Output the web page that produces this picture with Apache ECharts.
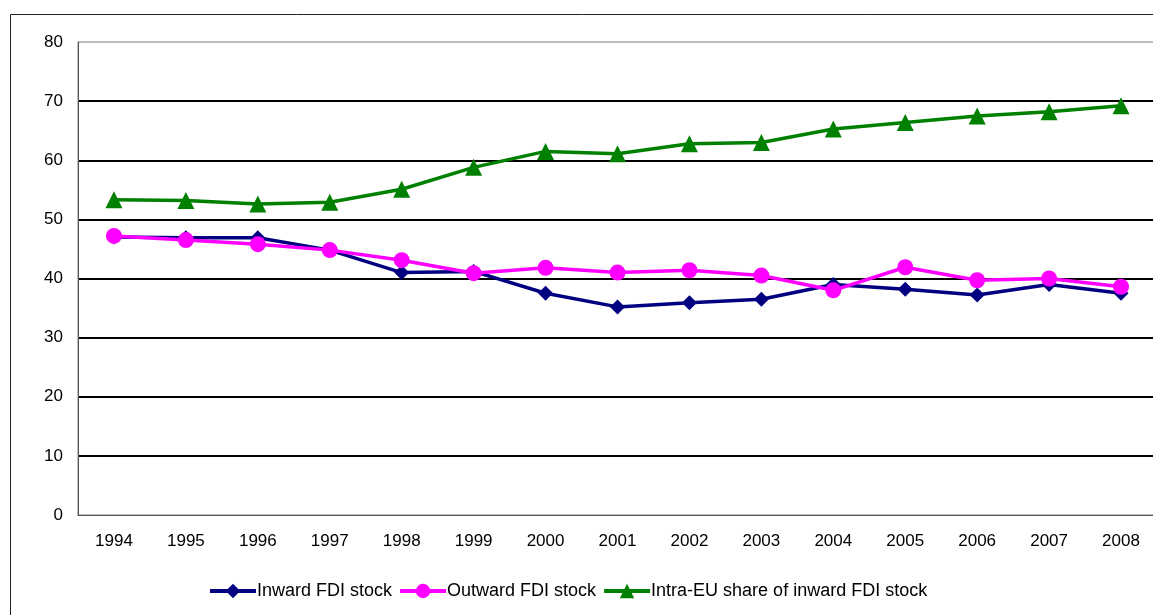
<!DOCTYPE html>
<html>
<head>
<meta charset="utf-8">
<script src="https://cdn.jsdelivr.net/npm/echarts@6/dist/echarts.min.js"></script>
<style>
  html, body { margin: 0; padding: 0; background: #fff; }
  #chart { width: 1153px; height: 615px; }
</style>
</head>
<body>
<div id="chart"></div>
<script>
// Years on the category axis
const years = ['1994','1995','1996','1997','1998','1999','2000','2001','2002','2003','2004','2005','2006','2007','2008'];

// Shares in percent
const inwardFDI  = [47.0, 46.9, 46.9, 44.8, 41.0, 41.2, 37.5, 35.2, 35.9, 36.5, 39.0, 38.2, 37.2, 39.0, 37.5];
const outwardFDI = [47.2, 46.5, 45.8, 44.8, 43.1, 40.9, 41.8, 41.0, 41.4, 40.5, 38.0, 41.9, 39.7, 40.0, 38.6];
const intraEU    = [53.3, 53.2, 52.6, 52.9, 55.1, 58.8, 61.5, 61.1, 62.8, 63.0, 65.3, 66.4, 67.5, 68.2, 69.2];

const yTicks = { min: 0, max: 80, interval: 10 };

const chart = echarts.init(document.getElementById('chart'), null, { renderer: 'canvas' });

const font = 'Liberation Sans, Arial, sans-serif';

function lineSeries(name, data, color, symbol, size) {
  return {
    name, type: 'line', data, symbol, symbolSize: size,
    showSymbol: true,
    lineStyle: { color, width: 3.5 },
    itemStyle: { color, borderWidth: 0 },
    emphasis: { disabled: true },
    animation: false
  };
}

chart.setOption({
  animation: false,
  backgroundColor: '#fff',
  graphic: [{
    type: 'rect',
    shape: { x: 10.5, y: 14.5, width: 1300, height: 700 },
    style: { fill: 'none', stroke: '#222', lineWidth: 1 },
    z: -1
  }],
  grid: {
    left: 78, top: 42, width: 1079, bottom: 100,
    outerBoundsMode: 'none',
    containLabel: false,
    show: true, borderColor: '#7f7f7f', borderWidth: 1, backgroundColor: 'transparent'
  },
  legend: {
    bottom: 10, left: 203,
    itemWidth: 46, itemHeight: 18, itemGap: 6,
    lineStyle: { width: 4 },
    textStyle: { fontFamily: font, fontSize: 18, color: '#000', padding: [0, 0, 0, -4] },
    data: ['Inward FDI stock', 'Outward FDI stock', 'Intra-EU share of inward FDI stock']
  },
  xAxis: {
    type: 'category', data: years, boundaryGap: true,
    axisLine: { lineStyle: { color: '#555', width: 1 } },
    axisTick: { show: false },
    axisLabel: { fontFamily: font, fontSize: 17, color: '#000', margin: 18 }
  },
  yAxis: {
    type: 'value', min: yTicks.min, max: yTicks.max, interval: yTicks.interval,
    axisLine: { show: true, lineStyle: { color: '#555', width: 1 } },
    axisTick: { show: false },
    axisLabel: { fontFamily: font, fontSize: 17, color: '#000', margin: 15 },
    splitLine: { showMaxLine: false, showMinLine: false, lineStyle: { color: '#000', width: 2 } }
  },
  series: [
    lineSeries('Inward FDI stock', inwardFDI, '#000080', 'diamond', 15),
    lineSeries('Outward FDI stock', outwardFDI, '#FF00FF', 'circle', 16),
    lineSeries('Intra-EU share of inward FDI stock', intraEU, '#008000', 'triangle', 17)
  ]
});
</script>
</body>
</html>
